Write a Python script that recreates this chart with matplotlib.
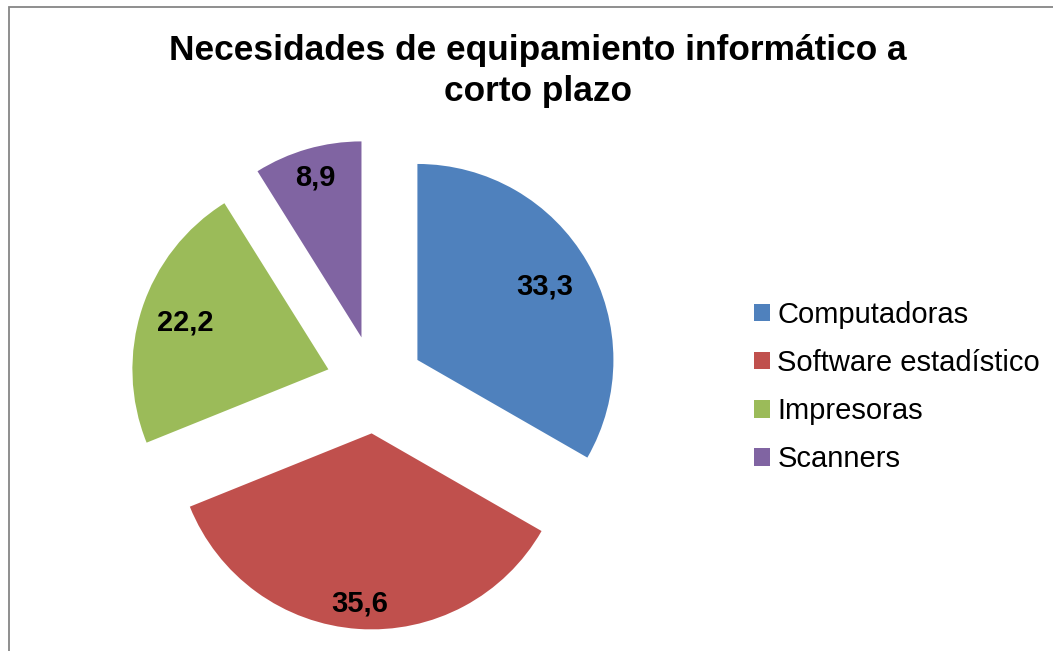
import matplotlib
matplotlib.use("Agg")
import matplotlib.pyplot as plt
import numpy as np
from matplotlib.patches import Rectangle

plt.rcParams["font.family"] = ["Liberation Sans", "DejaVu Sans"]

title = "Necesidades de equipamiento informático a\ncorto plazo"
categories = ["Computadoras", "Software estadístico", "Impresoras", "Scanners"]
values = [33.3, 35.6, 22.2, 8.9]
colors = ["#4F81BD", "#C0504D", "#9BBB59", "#8064A2"]
# radial position of each value label, as a fraction of the radius
label_dist = [0.75, 0.87, 0.77, 0.85]

W, H = 1053, 651
fig = plt.figure(figsize=(W / 100, H / 100), dpi=100)
ax = fig.add_axes([0, 0, 1, 1])

radius = 196
wedges, _ = ax.pie(
    values,
    colors=colors,
    startangle=90,
    counterclock=False,
    explode=[49] * len(values),
    radius=radius,
    center=(375, H - 384.5),
    frame=True,
    wedgeprops=dict(linewidth=0),
)
ax.set_xlim(0, W)
ax.set_ylim(0, H)
ax.set_aspect("equal")
ax.axis("off")

for w, v, d in zip(wedges, values, label_dist):
    mid = np.deg2rad((w.theta1 + w.theta2) / 2)
    cx, cy = w.center
    ax.text(cx + d * w.r * np.cos(mid), cy + d * w.r * np.sin(mid),
            f"{v:.1f}".replace(".", ","), ha="center", va="center",
            fontsize=21, fontweight="bold", color="black")

fig.text(538 / W, 1 - 34 / H, title, ha="center", va="top",
         fontsize=25.4, fontweight="bold", linespacing=1.3)

ax.legend(wedges, categories, loc="center left",
          bbox_to_anchor=(754 / W, 1 - 387 / H), bbox_transform=fig.transFigure,
          frameon=False, fontsize=21, borderpad=0, borderaxespad=0,
          handlelength=0.55, handleheight=0.55, handletextpad=0.25,
          labelspacing=0.69)

# chart-area outline
fig.add_artist(Rectangle((8.5 / W, -0.1), 1.2, 1.1 - 7.5 / H,
                         transform=fig.transFigure, fill=False,
                         edgecolor="#868686", linewidth=1.3))

fig.savefig("out.png", dpi=100)
